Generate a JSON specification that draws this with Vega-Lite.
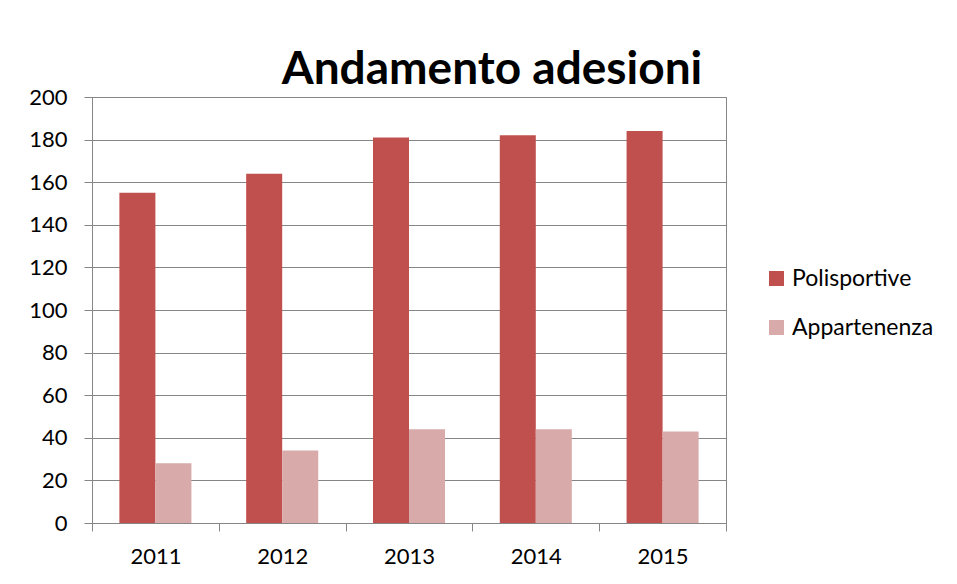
{
  "$schema": "https://vega.github.io/schema/vega-lite/v6.json",
  "width": 634,
  "height": 426,
  "autosize": {"type": "none"},
  "padding": {"left": 92, "top": 97, "right": 231, "bottom": 61},
  "background": "white",
  "title": {
    "text": "Andamento adesioni",
    "font": "Lato",
    "fontSize": 46,
    "fontWeight": "bold",
    "color": "black",
    "anchor": "middle",
    "dx": 83,
    "dy": 59,
    "baseline": "alphabetic",
    "offset": 15
  },
  "data": {
    "values": [
      {"year": "2011", "series": "Polisportive", "value": 155},
      {"year": "2011", "series": "Appartenenza", "value": 28},
      {"year": "2012", "series": "Polisportive", "value": 164},
      {"year": "2012", "series": "Appartenenza", "value": 34},
      {"year": "2013", "series": "Polisportive", "value": 181},
      {"year": "2013", "series": "Appartenenza", "value": 44},
      {"year": "2014", "series": "Polisportive", "value": 182},
      {"year": "2014", "series": "Appartenenza", "value": 44},
      {"year": "2015", "series": "Polisportive", "value": 184},
      {"year": "2015", "series": "Appartenenza", "value": 43}
    ]
  },
  "mark": {"type": "bar"},
  "encoding": {
    "x": {
      "field": "year",
      "type": "ordinal",
      "scale": {"paddingInner": 0, "paddingOuter": 0},
      "axis": {
        "title": null,
        "labelAngle": 0,
        "tickBand": "extent",
        "tickSize": 8,
        "tickColor": "#868686",
        "domainColor": "#868686",
        "labelFont": "Lato",
        "labelFontSize": 22,
        "labelColor": "black",
        "labelPadding": 15,
        "grid": false
      }
    },
    "xOffset": {
      "field": "series",
      "sort": ["Polisportive", "Appartenenza"],
      "scale": {"paddingInner": 0, "paddingOuter": 0.76}
    },
    "y": {
      "field": "value",
      "type": "quantitative",
      "scale": {"domain": [0, 200], "nice": false},
      "axis": {
        "title": null,
        "values": [0, 20, 40, 60, 80, 100, 120, 140, 160, 180, 200],
        "grid": true,
        "gridColor": "#868686",
        "gridWidth": 1,
        "tickSize": 8,
        "tickColor": "#868686",
        "domainColor": "#868686",
        "labelFont": "Lato",
        "labelFontSize": 22,
        "labelColor": "black",
        "labelPadding": 17
      }
    },
    "color": {
      "field": "series",
      "type": "nominal",
      "scale": {
        "domain": ["Polisportive", "Appartenenza"],
        "range": ["#C0504D", "#D9AAAA"]
      },
      "legend": {
        "orient": "none",
        "legendX": 673,
        "legendY": 170,
        "title": null,
        "symbolType": "square",
        "symbolSize": 225,
        "symbolStrokeWidth": 0,
        "labelFont": "Lato",
        "labelFontSize": 23,
        "labelColor": "black",
        "labelOffset": 4,
        "rowPadding": 25
      }
    }
  },
  "config": {
    "view": {"stroke": "#868686", "strokeWidth": 1},
    "axis": {"domainWidth": 1, "tickWidth": 1}
  }
}
